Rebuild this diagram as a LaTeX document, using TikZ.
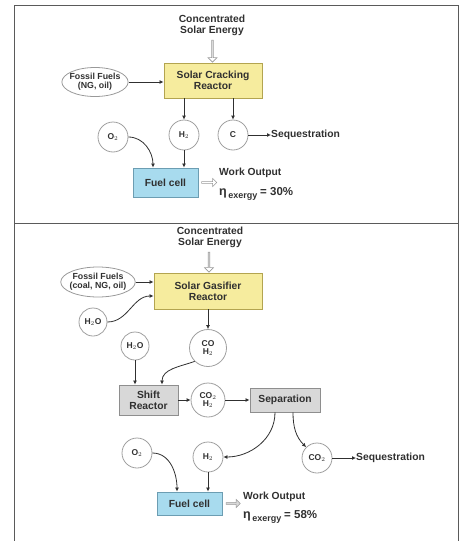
\documentclass[tikz,border=0pt]{standalone}
\usepackage{fontspec}
\setmainfont{Liberation Sans}
\usepackage{amsmath}
\usetikzlibrary{arrows.meta,shapes.geometric,shapes.arrows}

\definecolor{reactorfill}{HTML}{F6EC9E}
\definecolor{reactorline}{HTML}{B3A450}
\definecolor{cellfill}{HTML}{A8DBEE}
\definecolor{cellline}{HTML}{6C9DB2}
\definecolor{unitfill}{HTML}{D8D8D8}
\definecolor{unitline}{HTML}{8E8E8E}
\definecolor{inkgray}{HTML}{303030}

\newcommand{\exergy}[1]{{\fontsize{12.5}{12}\selectfont η}\raisebox{-3.5pt}{\fontsize{9}{9}\selectfont\,exergy}\ {\fontsize{11.5}{12}\selectfont = #1\%}}

\begin{document}
\begin{tikzpicture}[x=1pt,y=-1pt,
  every node/.style={font=\bfseries\fontsize{10.3}{11}\selectfont, align=center, text=inkgray},
  flow/.style={draw=inkgray, line width=0.8pt, -{Latex[length=4pt,width=4pt]}},
  reactor/.style={rectangle, draw=reactorline, line width=0.9pt, fill=reactorfill, inner sep=1pt},
  cell/.style={rectangle, draw=cellline, line width=0.9pt, fill=cellfill, inner sep=1pt, minimum width=65pt},
  unit/.style={rectangle, draw=unitline, line width=0.9pt, fill=unitfill, inner sep=1pt},
  species/.style={circle, draw=gray!75, line width=0.8pt, minimum size=30pt, inner sep=0pt, font=\bfseries\fontsize{8.5}{8.5}\selectfont},
  fuel/.style={ellipse, draw=gray!80, line width=0.8pt, inner sep=-2pt, font=\bfseries\fontsize{8.8}{9.3}\selectfont},
  solarbeam/.style={single arrow, draw=gray!80, fill=white, line width=0.6pt, shape border rotate=270,
    minimum width=9pt, minimum height=22pt, single arrow head extend=1.5pt, inner sep=0pt},
  workarrow/.style={single arrow, draw=gray!80, line width=0.6pt, minimum width=8pt,
    minimum height=15pt, single arrow head extend=1pt, inner sep=0pt},
  sidetext/.style={anchor=west, inner sep=0pt}
]
  \useasboundingbox (0,0) rectangle (464,541);

  % Frame of the two panels
  \draw[inkgray!80, line width=0.9pt] (14,545) -- (14,5) -- (458,5) -- (458,545);
  \draw[inkgray!80, line width=0.9pt] (14,223) -- (458,223);

  % Top panel: solar cracking
  \node (sunA) at (212,25) {Concentrated\\Solar Energy};
  \node[reactor, minimum width=98pt, minimum height=35pt] (crack) at (213,80.5) {Solar Cracking\\Reactor};
  \node[fuel, minimum width=65pt, minimum height=29pt] (fossilA) at (95,82) {Fossil Fuels\\(NG, oil)};
  \node[species] (h2A) at (184,135) {H$_2$};
  \node[species] (cA) at (233,135) {C};
  \node[species] (o2A) at (113,137) {O$_2$};
  \node[sidetext] (seqA) at (271,135) {Sequestration};
  \node[cell, minimum height=29pt] (fcA) at (165.5,182.5) {Fuel cell};
  \node[sidetext] (workA) at (219,173) {Work Output};
  \node[sidetext] (etaA) at (219,194) {\exergy{30}};

  \path (sunA.south) -- (crack.north) node[midway, solarbeam] {};
  \draw[flow] (fossilA) -- (fossilA -| crack.west);
  \draw[flow] (crack.south -| h2A) -- (h2A);
  \draw[flow] (crack.south -| cA) -- (cA);
  \draw[flow] (cA) -- (seqA);
  \draw[flow] (h2A) -- (h2A |- fcA.north);
  \draw[flow] (o2A.east) to[out=0, in=90] ([xshift=-12.5pt]fcA.north);
  \path (fcA.east) -- (workA.west |- fcA.east) node[midway, workarrow, fill=white] {};

  % Bottom panel: solar gasification
  \node (sunB) at (210,237) {Concentrated\\Solar Energy};
  \node[reactor, minimum width=108pt, minimum height=36pt] (gasif) at (208,291) {Solar Gasifier\\Reactor};
  \node[fuel, minimum width=72pt, minimum height=30pt] (fossilB) at (98,282) {Fossil Fuels\\(coal, NG, oil)};
  \node[species, minimum size=28pt] (h2oA) at (93,322) {H$_2$O};
  \node[species, minimum size=37pt] (syngas) at (208,348) {CO\\H$_2$};
  \node[species, minimum size=28pt] (h2oB) at (135,346) {H$_2$O};
  \node[unit, minimum width=59pt, minimum height=30pt] (shift) at (148.5,400) {Shift\\Reactor};
  \node[species, minimum size=34pt] (shifted) at (208,400) {CO$_2$\\H$_2$};
  \node[unit, minimum width=70pt, minimum height=24pt] (sep) at (285,400) {Separation};
  \node[species] (h2B) at (208,457) {H$_2$};
  \node[species] (co2B) at (317,458) {CO$_2$};
  \node[sidetext] (seqB) at (356,458) {Sequestration};
  \node[species] (o2B) at (137,453) {O$_2$};
  \node[cell, minimum height=23pt] (fcB) at (189.5,503.5) {Fuel cell};
  \node[sidetext] (workB) at (243,497) {Work Output};
  \node[sidetext] (etaB) at (243,517) {\exergy{58}};

  \path (sunB.south) -- (gasif.north) node[midway, solarbeam, minimum height=20pt] {};
  \draw[flow] (fossilB) -- (fossilB -| gasif.west);
  \draw[flow] (h2oA.east) to[out=0, in=180] ([yshift=-5pt]gasif.west);
  \draw[flow] (gasif) -- (syngas);
  \draw[flow] (h2oB) -- (h2oB |- shift.north);
  \draw[flow] (syngas.south west) to[out=200, in=90] ([xshift=13.5pt]shift.north);
  \draw[flow] (shift) -- (shifted);
  \draw[flow] (shifted) -- (sep);
  \draw[flow] ([xshift=-10pt]sep.south) to[out=-90, in=0] (h2B.east);
  \draw[flow] ([xshift=8pt]sep.south) to[out=-90, in=135] (co2B.north west);
  \draw[flow] (co2B) -- (seqB);
  \draw[flow] (h2B) -- (h2B |- fcB.north);
  \draw[flow] (o2B.east) to[out=0, in=90] ([xshift=-12.5pt]fcB.north);
  \path (fcB.east) -- (workB.west |- fcB.east) node[midway, workarrow, fill=unitfill, minimum height=14pt] {};
\end{tikzpicture}
\end{document}
